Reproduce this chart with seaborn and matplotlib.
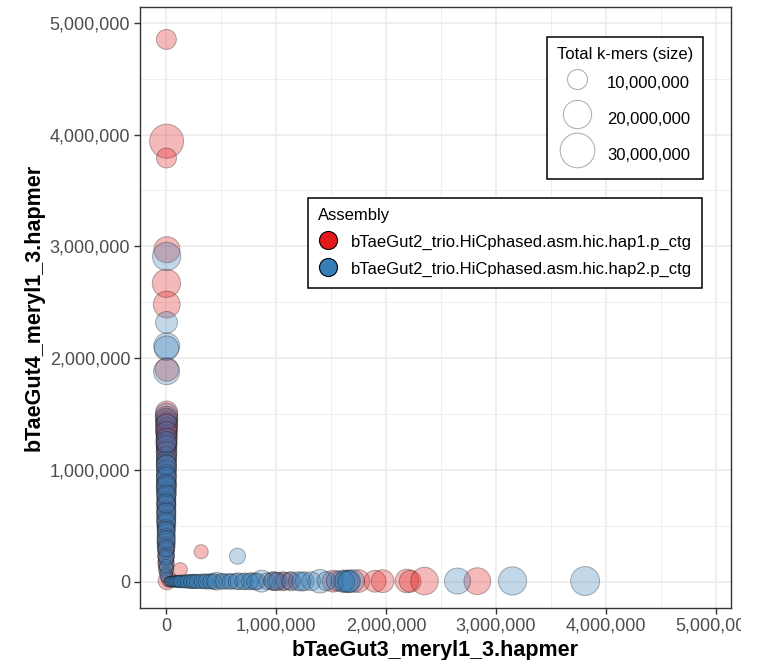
import numpy as np
import pandas as pd
import seaborn as sns
import matplotlib
matplotlib.use("Agg")
import matplotlib.pyplot as plt
from matplotlib.lines import Line2D
from matplotlib.ticker import FuncFormatter, MultipleLocator
from matplotlib.transforms import Bbox

# hapmer counts per contig (bTaeGut3 on x, bTaeGut4 on y) and total k-mers
hap1_x = [4000, 6000, 5000, 9000, 4000, 7000, 8000,
          6000, 5000, 7000, 6000, 8000, 5000, 6000, 7000, 5000, 6000, 4000, 5000,
          6000, 5000, 4000, 5000, 4000, 3000, 5000, 4000, 3000, 4000, 3000, 3000,
          2000, 3000, 2000, 2000, 2000, 1000, 1000, 1000, 1000, 1000,
          5000, 4000, 6000, 5000, 4000, 3000, 3000, 2000, 2000, 1000,
          10000, 30000,
          980000, 1060000, 1130000, 1520000, 1750000, 1900000, 1970000,
          2190000, 2220000, 2350000, 2830000, 320000, 130000]
hap1_y = [4850000, 3940000, 3790000, 2970000, 2670000, 2480000, 1900000,
          1520000, 1470000, 1440000, 1410000, 1380000, 1350000, 1320000, 1290000, 1260000, 1230000, 1200000, 1170000,
          1140000, 1100000, 1060000, 1020000, 980000, 940000, 900000, 860000, 820000, 780000, 730000, 680000,
          630000, 580000, 530000, 470000, 410000, 350000, 290000, 230000, 170000, 110000,
          1430000, 1370000, 1310000, 1240000, 1190000, 1080000, 880000, 700000, 500000, 320000,
          10000, 20000,
          8000, 6000, 9000, 7000, 8000, 6000, 7000,
          9000, 6000, 8000, 7000, 270000, 110000]
hap1_total = [10e6, 29e6, 10e6, 17e6, 20e6, 18e6, 14e6,
              12e6, 13e6, 12e6, 12e6, 11e6, 12e6, 11e6, 11e6, 10e6, 11e6, 10e6, 10e6,
              10e6, 10e6, 9e6, 10e6, 9e6, 9e6, 9e6, 9e6, 9e6, 9e6, 9e6, 9e6,
              9e6, 9e6, 8e6, 8e6, 8e6, 8e6, 7e6, 7e6, 7e6, 6e6,
              10e6, 11e6, 10e6, 10e6, 9e6, 9e6, 9e6, 8e6, 8e6, 7e6,
              8e6, 6e6,
              9e6, 9e6, 8e6, 12e6, 13e6, 12e6, 13e6,
              14e6, 12e6, 19e6, 18e6, 5e6, 5e6]

hap2_x = [6000, 5000, 7000, 5000, 6000,
          5000, 4000, 5000, 4000, 5000, 4000, 5000, 4000, 5000, 4000, 5000, 4000,
          3000, 4000, 3000, 4000, 3000, 3000, 4000, 3000, 3000, 2000, 3000, 2000,
          2000, 2000, 2000, 2000, 1000, 1000, 1000, 1000, 1000, 1000, 1000,
          4000, 3000, 4000, 3000, 3000, 2000, 3000, 2000, 2000, 2000, 1000, 1000, 1000, 1000,
          20000, 40000, 60000, 80000, 100000, 120000, 140000, 170000, 200000, 230000,
          260000, 300000, 340000, 380000, 420000, 460000, 500000, 550000, 600000,
          660000, 720000, 780000, 830000, 870000, 920000, 970000, 1020000, 1080000,
          1140000, 1200000, 1260000, 1320000, 1400000, 1460000, 1550000, 1600000,
          1640000, 1670000, 1700000, 2650000, 3150000, 3810000, 650000,
          30000, 50000, 70000, 90000, 110000, 130000, 160000, 190000, 220000,
          250000, 280000, 320000, 360000, 400000, 440000, 520000, 580000, 640000,
          700000, 760000, 810000, 1000000, 1230000, 1620000, 1660000]
hap2_y = [2910000, 2320000, 2110000, 2090000, 1880000,
          1500000, 1460000, 1400000, 1340000, 1280000, 1220000, 1160000, 1120000, 1080000, 1040000, 1000000, 960000,
          920000, 880000, 840000, 800000, 760000, 720000, 680000, 640000, 600000, 560000, 520000, 480000,
          440000, 400000, 360000, 320000, 280000, 240000, 200000, 160000, 120000, 80000, 40000,
          1250000, 1050000, 940000, 860000, 780000, 700000, 620000, 540000, 460000, 380000, 300000, 220000, 140000, 60000,
          4000, 5000, 4000, 5000, 6000, 5000, 6000, 5000, 6000, 5000,
          6000, 5000, 6000, 5000, 6000, 7000, 6000, 5000, 6000,
          7000, 6000, 7000, 6000, 7000, 6000, 7000, 6000, 7000,
          6000, 7000, 6000, 7000, 6000, 7000, 8000, 7000,
          6000, 7000, 8000, 8000, 9000, 8000, 230000,
          3000, 4000, 3000, 4000, 3000, 4000, 3000, 4000, 3000,
          4000, 3000, 4000, 3000, 4000, 3000, 4000, 3000, 4000,
          3000, 4000, 3000, 4000, 3000, 4000, 3000]
hap2_total = [20e6, 12e6, 17e6, 15e6, 17e6,
              12e6, 11e6, 12e6, 11e6, 11e6, 10e6, 11e6, 10e6, 10e6, 10e6, 10e6, 10e6,
              10e6, 10e6, 10e6, 10e6, 9e6, 9e6, 9e6, 9e6, 9e6, 9e6, 9e6, 8e6,
              8e6, 8e6, 8e6, 8e6, 7e6, 7e6, 6e6, 6e6, 5e6, 4e6, 3e6,
              11e6, 10e6, 10e6, 10e6, 9e6, 9e6, 9e6, 9e6, 8e6, 8e6, 7e6, 6e6, 5e6, 4e6,
              2e6, 2.5e6, 3e6, 3e6, 3.5e6, 3.5e6, 4e6, 4e6, 4.5e6, 5e6,
              5e6, 5e6, 5.5e6, 5.5e6, 6e6, 8e6, 6e6, 6e6, 6e6,
              7e6, 7e6, 7e6, 7e6, 12e6, 7e6, 8e6, 8e6, 8e6,
              9e6, 9e6, 9e6, 9e6, 14e6, 9e6, 10e6, 12e6,
              13e6, 12e6, 13e6, 17e6, 20e6, 21e6, 6.5e6,
              2.5e6, 3e6, 3e6, 3.5e6, 3.5e6, 4e6, 4e6, 4.5e6, 4.5e6,
              5e6, 5e6, 5e6, 5.5e6, 5.5e6, 6e6, 6e6, 6e6, 6.5e6,
              6.5e6, 7e6, 7e6, 8e6, 9e6, 11e6, 12e6]

assemblies = ["bTaeGut2_trio.HiCphased.asm.hic.hap1.p_ctg",
              "bTaeGut2_trio.HiCphased.asm.hic.hap2.p_ctg"]
size_breaks = [10e6, 20e6, 30e6]

df = pd.concat([
    pd.DataFrame({"x": hap1_x, "y": hap1_y, "total": hap1_total, "Assembly": assemblies[0]}),
    pd.DataFrame({"x": hap2_x, "y": hap2_y, "total": hap2_total, "Assembly": assemblies[1]}),
], ignore_index=True)

red, blue = "#E41A1C", "#377EB8"
plt.rcParams["font.family"] = ["Liberation Sans", "DejaVu Sans"]

W, H = 758, 660
fig = plt.figure(figsize=(W / 100, H / 100), dpi=100)
ax = fig.add_axes([140 / W, (H - 608) / H, 591 / W, 601 / H])

S_MAX = 621.0
sns.scatterplot(data=df, x="x", y="y", hue="Assembly", size="total",
                palette=[red, blue], sizes=(0, S_MAX), size_norm=(0, 30e6),
                alpha=0.3, edgecolor="black", linewidth=0.7, legend=False, ax=ax, zorder=3)

ax.set_xlim(-0.236e6, 5.136e6)
ax.set_ylim(-0.233e6, 5.14e6)
ax.xaxis.set_major_locator(MultipleLocator(1e6))
ax.yaxis.set_major_locator(MultipleLocator(1e6))
ax.xaxis.set_minor_locator(MultipleLocator(5e5))
ax.yaxis.set_minor_locator(MultipleLocator(5e5))
fmt = FuncFormatter(lambda v, p: f"{int(round(v)):,}")
ax.xaxis.set_major_formatter(fmt)
ax.yaxis.set_major_formatter(fmt)

ax.grid(which="major", color="#EBEBEB", linewidth=1.1, zorder=0)
ax.grid(which="minor", color="#EBEBEB", linewidth=0.55, zorder=0)
ax.set_axisbelow(True)
for sp in ax.spines.values():
    sp.set_color("#333333")
    sp.set_linewidth(1.0)
ax.tick_params(which="major", length=4, width=1.0, color="#333333",
               labelsize=13, labelcolor="#4D4D4D", pad=3)
ax.tick_params(which="minor", length=0)

ax.set_xlabel("bTaeGut3_meryl1_3.hapmer", fontsize=15.5, fontweight="bold", labelpad=4)
ax.set_ylabel("bTaeGut4_meryl1_3.hapmer", fontsize=15.5, fontweight="bold", labelpad=4)

# the rightmost x tick label runs off the plotting device edge
clip = Bbox.from_extents(0, 0, 741, H)
for lab in ax.get_xticklabels():
    lab.set_clip_box(clip)
    lab.set_clip_on(True)

# size legend
def marker_size(total):
    return np.sqrt(S_MAX * total / 30e6)

FS = 12
size_handles = [Line2D([], [], linestyle="none", marker="o", markersize=marker_size(v),
                       markerfacecolor="white", markeredgecolor=(0, 0, 0, 0.3),
                       markeredgewidth=0.8, label=f"{int(v):,}") for v in size_breaks]
leg1 = ax.legend(handles=size_handles, title="Total k-mers (size)", loc="upper right",
                 bbox_to_anchor=(0.953, 0.950), borderaxespad=0, fontsize=FS, title_fontsize=FS,
                 frameon=True, fancybox=False, edgecolor="black", framealpha=1,
                 handleheight=2.3, labelspacing=0.4, handletextpad=0.6,
                 borderpad=0.6, handlelength=2.4)
leg1.get_frame().set_linewidth(1.1)
leg1._legend_box.align = "left"
ax.add_artist(leg1)

asm_handles = [Line2D([], [], linestyle="none", marker="o", markersize=13,
                      markerfacecolor=c, markeredgecolor="black", markeredgewidth=0.8,
                      label=lab) for c, lab in zip([red, blue], assemblies)]
leg2 = ax.legend(handles=asm_handles, title="Assembly", loc="upper right",
                 bbox_to_anchor=(0.951, 0.682), borderaxespad=0, fontsize=FS, title_fontsize=FS,
                 frameon=True, fancybox=False, edgecolor="black", framealpha=1,
                 handleheight=1.3, labelspacing=0.55, handletextpad=0.8,
                 borderpad=0.6, handlelength=1.2)
leg2.get_frame().set_linewidth(1.1)
leg2._legend_box.align = "left"

fig.savefig("out.png", dpi=100, facecolor="white")
